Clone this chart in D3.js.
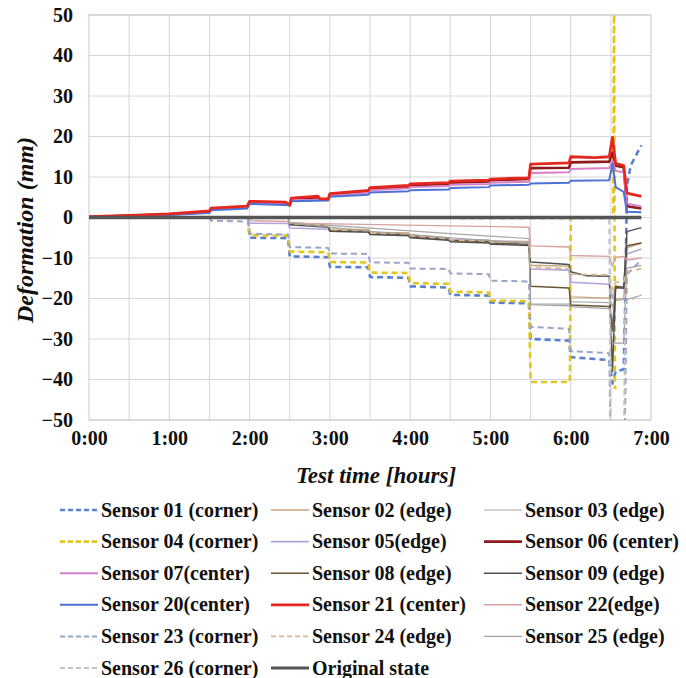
<!DOCTYPE html>
<html>
<head>
<meta charset="utf-8">
<script src="https://cdn.jsdelivr.net/npm/d3@7"></script>
<style>
  body { margin: 0; background: #ffffff; }
  svg { display: block; }
  svg text { font-family: "Liberation Serif", "Times New Roman", Tinos, Times, "DejaVu Serif", serif; }
</style>
</head>
<body>
<div id="chart"></div>
<script>
// tick values / labels
const yTicks = [50, 40, 30, 20, 10, 0, -10, -20, -30, -40, -50];
const xTicks = [0, 1, 2, 3, 4, 5, 6, 7];
const xTickLabels = ["0:00", "1:00", "2:00", "3:00", "4:00", "5:00", "6:00", "7:00"];
const xGridHours = [0.5, 1, 1.5, 2, 2.5, 3, 3.5, 4, 4.5, 5, 5.5, 6, 6.5];

// series: [time in hours, deformation in mm]
const sensor01 = [[0,0],[1.98,0],[2.0,-5.0],[2.48,-5.1],[2.5,-9.6],[2.98,-9.8],[3.0,-12.2],[3.48,-12.3],[3.5,-14.7],[3.98,-14.9],[4.0,-17.0],[4.48,-17.3],[4.5,-19.1],[4.98,-19.3],[5.0,-21.0],[5.48,-21.2],[5.5,-30.0],[5.98,-30.4],[6.0,-34.5],[6.48,-35.2],[6.52,-41],[6.56,-38],[6.66,-37.5],[6.68,-20],[6.7,8],[6.75,13],[6.88,17.8]];
const sensor02 = [[0,0],[2.48,0],[2.5,-1.3],[2.98,-1.9],[3.0,-2.8],[3.48,-3.0],[3.5,-3.6],[3.98,-3.8],[4.0,-4.3],[4.48,-5.0],[4.5,-5.4],[4.98,-5.6],[5.0,-5.8],[5.48,-5.9],[5.5,-11.8],[5.98,-12.0],[6.0,-19.6],[6.48,-19.9],[6.52,-22],[6.56,-20.2],[6.66,-20.0],[6.7,-7.5],[6.88,-6.3]];
const sensor03 = [[0,0],[2.48,0],[2.5,-1.2],[3.5,-2.6],[4.5,-4.0],[5.48,-5.2],[5.5,-21.3],[5.98,-21.4],[6.0,-20.8],[6.48,-21.0],[6.52,-26],[6.56,-20.5],[6.66,-20.3],[6.7,-20.2],[6.88,-19.2]];
const sensor04 = [[0,0],[1.98,0],[2.0,-4.4],[2.48,-4.5],[2.5,-8.4],[2.98,-8.6],[3.0,-11.0],[3.48,-11.1],[3.5,-13.6],[3.98,-13.7],[4.0,-16.2],[4.48,-16.4],[4.5,-18.3],[4.98,-18.5],[5.0,-20.5],[5.48,-20.7],[5.5,-40.6],[5.99,-40.6],[6.0,0],[6.53,0],[6.54,60],[6.55,-42],[6.57,-42]];
const sensor05 = [[0,0],[1.98,0],[2.0,-1.4],[2.48,-1.5],[2.5,-2.6],[2.98,-2.9],[3.0,-3.4],[3.48,-3.6],[3.5,-4.1],[3.98,-4.3],[4.0,-4.7],[4.48,-5.1],[4.5,-5.4],[4.98,-5.6],[5.0,-5.9],[5.48,-6.1],[5.5,-12.7],[5.98,-13.0],[6.0,-16.0],[6.48,-16.5],[6.52,-20],[6.56,-17.5],[6.66,-17.2],[6.7,-9],[6.88,-7.8]];
const sensor06 = [[0,0.1],[0.5,0.4],[1,0.8],[1.5,1.4],[1.52,2.1],[1.97,2.6],[2.0,3.8],[2.45,3.6],[2.5,3.0],[2.52,4.5],[2.85,5.0],[2.88,4.4],[2.98,4.4],[3.0,5.6],[3.48,6.4],[3.5,7.1],[3.98,7.6],[4.0,8.0],[4.48,8.3],[4.5,8.6],[4.98,8.9],[5.0,9.2],[5.48,9.5],[5.5,12.2],[5.98,12.3],[6.0,13.6],[6.48,13.8],[6.52,16],[6.56,12.8],[6.66,12.4],[6.7,2.8],[6.88,2.2]];
const sensor07 = [[0,0.1],[1,0.7],[1.5,1.3],[1.52,2.0],[1.97,2.4],[2.0,3.6],[2.5,3.2],[2.52,4.3],[2.98,4.4],[3.0,5.4],[3.48,6.1],[3.5,6.7],[3.98,7.2],[4.0,7.5],[4.48,7.8],[4.5,8.1],[4.98,8.3],[5.0,8.6],[5.48,8.8],[5.5,11.0],[5.98,11.2],[6.0,12.0],[6.48,12.2],[6.52,14],[6.56,11.5],[6.66,11.2],[6.7,3.4],[6.88,2.7]];
const sensor08 = [[0,0],[2.48,0],[2.5,-1.6],[2.98,-2.2],[3.0,-3.2],[3.48,-3.4],[3.5,-4.0],[3.98,-4.2],[4.0,-4.7],[4.48,-5.4],[4.5,-5.7],[4.98,-6.0],[5.0,-6.3],[5.48,-6.6],[5.5,-17.0],[5.98,-17.4],[6.0,-21.6],[6.48,-22.0],[6.52,-28],[6.56,-17],[6.66,-17.2],[6.7,-7],[6.88,-6.3]];
const sensor09 = [[0,0],[2.48,0],[2.5,-1.8],[2.98,-2.4],[3.0,-3.4],[3.48,-3.6],[3.5,-4.2],[3.98,-4.5],[4.0,-5.0],[4.48,-5.6],[4.5,-6.0],[4.98,-6.3],[5.0,-6.6],[5.48,-6.9],[5.5,-11.0],[5.98,-11.6],[6.0,-13.4],[6.2,-14.4],[6.48,-14.5],[6.52,-38],[6.56,-17.3],[6.66,-17.5],[6.7,-3.5],[6.88,-2.5]];
const sensor20 = [[0,0],[1,0.6],[1.5,1.1],[1.52,1.8],[1.97,2.2],[2.0,3.4],[2.5,3.0],[2.52,4.0],[2.98,4.2],[3.0,5.1],[3.48,5.6],[3.5,6.2],[3.98,6.5],[4.0,6.7],[4.48,6.9],[4.5,7.3],[4.98,7.5],[5.0,7.9],[5.48,8.1],[5.5,8.4],[5.98,8.6],[6.0,9.1],[6.48,9.2],[6.52,13.3],[6.56,7.5],[6.66,6.3],[6.7,1.4],[6.88,1.3]];
const sensor21 = [[0,0.2],[0.5,0.5],[1,0.9],[1.5,1.6],[1.52,2.3],[1.97,2.8],[2.0,4.0],[2.45,3.8],[2.5,3.1],[2.52,4.8],[2.85,5.3],[2.88,4.6],[2.98,4.6],[3.0,5.9],[3.48,6.7],[3.5,7.4],[3.98,7.9],[4.0,8.3],[4.48,8.6],[4.5,9.0],[4.98,9.2],[5.0,9.5],[5.48,9.8],[5.5,13.2],[5.98,13.5],[6.0,15.0],[6.3,14.8],[6.48,15.0],[6.52,19.8],[6.56,13.3],[6.66,12.8],[6.7,6.0],[6.88,5.2]];
const sensor22 = [[0,0],[2.0,0],[2.02,-0.8],[2.48,-1.0],[2.5,-1.4],[5.48,-2.4],[5.5,-7.0],[5.98,-7.3],[6.0,-9.4],[6.48,-9.6],[6.52,-12],[6.56,-9.8],[6.66,-9.6],[6.7,-10.5],[6.88,-10]];
const sensor23 = [[0,0],[1.5,0],[1.52,-0.8],[1.98,-1.0],[2.0,-4.0],[2.48,-4.2],[2.5,-7.3],[2.98,-7.5],[3.0,-8.9],[3.48,-9.0],[3.5,-11.1],[3.98,-11.2],[4.0,-12.6],[4.48,-12.7],[4.5,-13.8],[4.98,-14.0],[5.0,-15.6],[5.48,-15.8],[5.5,-27.0],[5.98,-27.5],[6.0,-33.0],[6.48,-33.5],[6.5,-60],[6.67,-60],[6.7,-14],[6.88,-10.5]];
const sensor24 = [[0,0],[2.48,0],[2.5,-1.5],[2.98,-2.0],[3.0,-3.0],[3.48,-3.2],[3.5,-3.8],[3.98,-4.0],[4.0,-4.5],[4.48,-5.2],[4.5,-5.5],[4.98,-5.8],[5.0,-6.0],[5.48,-6.2],[5.5,-12.3],[5.98,-12.6],[6.0,-14.0],[6.48,-14.2],[6.52,-18],[6.56,-16],[6.66,-15.8],[6.7,-13.5],[6.88,-12.6]];
const sensor25 = [[0,0],[2.48,0],[2.5,-1.4],[3.5,-3.4],[4.5,-5.0],[5.48,-6.4],[5.5,-21.5],[5.98,-21.8],[6.0,-22.0],[6.48,-22.5],[6.52,-31],[6.66,-31],[6.7,-12.5],[6.88,-11.8]];
const sensor26 = [[0,0],[6.48,-0.3],[6.5,-60],[6.66,-60],[6.68,-21],[6.88,-19]];
const originalState = [[0,0],[6.88,0]];

const seriesNames = ["Sensor 01 (corner)", "Sensor 02 (edge)", "Sensor 03 (edge)",
  "Sensor 04 (corner)", "Sensor 05(edge)", "Sensor 06 (center)",
  "Sensor 07(center)", "Sensor 08 (edge)", "Sensor 09 (edge)",
  "Sensor 20(center)", "Sensor 21 (center)", "Sensor 22(edge)",
  "Sensor 23 (corner)", "Sensor 24 (edge)", "Sensor 25 (edge)",
  "Sensor 26 (corner)", "Original state"];
const seriesData = [sensor01, sensor02, sensor03, sensor04, sensor05, sensor06,
  sensor07, sensor08, sensor09, sensor20, sensor21, sensor22,
  sensor23, sensor24, sensor25, sensor26, originalState];

// styles per series: colour, width, dashed
const styles = [
  { color: "#5b7fcf", width: 2.6, dash: "6,4" },
  { color: "#c4a27c", width: 1.4 },
  { color: "#a6a6a6", width: 1.2 },
  { color: "#e3c51c", width: 2.6, dash: "6,4" },
  { color: "#b3a3da", width: 1.6 },
  { color: "#8e1b1b", width: 2.6 },
  { color: "#d97fc9", width: 2 },
  { color: "#6a5637", width: 1.5 },
  { color: "#4f4f4f", width: 1.4 },
  { color: "#4d72d6", width: 2 },
  { color: "#e4281d", width: 2.8 },
  { color: "#d9a0a0", width: 1.4 },
  { color: "#9aa3c8", width: 2, dash: "6,4" },
  { color: "#d6b88e", width: 1.8, dash: "6,4" },
  { color: "#a0a0a0", width: 1.2 },
  { color: "#c2c2c2", width: 2, dash: "6,4" },
  { color: "#555555", width: 3.6 }
];

const width = 686, height = 678;
const margin = { top: 15, right: 35, bottom: 258, left: 89 };
const plotW = width - margin.left - margin.right;
const plotH = height - margin.top - margin.bottom;

const svg = d3.select("#chart").append("svg")
  .attr("width", width)
  .attr("height", height);

const x = d3.scaleLinear().domain([0, 7]).range([0, plotW]);
const y = d3.scaleLinear().domain([-50, 50]).range([plotH, 0]);

const g = svg.append("g").attr("transform", `translate(${margin.left},${margin.top})`);

// grid
g.append("g")
  .selectAll("line.hgrid")
  .data(yTicks)
  .join("line")
  .attr("x1", 0).attr("x2", plotW)
  .attr("y1", d => y(d)).attr("y2", d => y(d))
  .attr("stroke", "#d6d6d6").attr("stroke-width", 1);

g.append("g")
  .selectAll("line.vgrid")
  .data(xGridHours)
  .join("line")
  .attr("y1", 0).attr("y2", plotH)
  .attr("x1", d => x(d)).attr("x2", d => x(d))
  .attr("stroke", "#d6d6d6").attr("stroke-width", 1);

g.append("rect")
  .attr("width", plotW).attr("height", plotH)
  .attr("fill", "none").attr("stroke", "#c8c8c8");

// axes
const yAxis = g.append("g")
  .call(d3.axisLeft(y).tickValues(yTicks).tickSize(0).tickPadding(16));
yAxis.select(".domain").remove();
yAxis.attr("font-family", null);
yAxis.selectAll("text")
  .attr("font-size", 20).attr("font-weight", "bold").attr("fill", "#111");

const xAxis = g.append("g")
  .attr("transform", `translate(0,${plotH})`)
  .call(d3.axisBottom(x).tickValues(xTicks).tickSize(0).tickPadding(11)
    .tickFormat((d, i) => xTickLabels[i]));
xAxis.select(".domain").remove();
xAxis.attr("font-family", null);
xAxis.selectAll("text")
  .attr("font-size", 20).attr("font-weight", "bold").attr("fill", "#111");

// axis titles
svg.append("text")
  .attr("transform", "translate(33,230) rotate(-90)")
  .attr("text-anchor", "middle")
  .attr("font-size", 24).attr("font-weight", "bold").attr("font-style", "italic")
  .attr("fill", "#111")
  .text("Deformation (mm)");

svg.append("text")
  .attr("x", 376)
  .attr("y", 483)
  .attr("text-anchor", "middle")
  .attr("font-size", 23).attr("font-weight", "bold").attr("font-style", "italic")
  .attr("fill", "#111")
  .text("Test time [hours]");

// lines, clipped to the plot
svg.append("clipPath").attr("id", "plotclip")
  .append("rect").attr("width", plotW).attr("height", plotH);

const line = d3.line().x(d => x(d[0])).y(d => y(d[1]));

g.append("g").attr("clip-path", "url(#plotclip)")
  .selectAll("path.series")
  .data(seriesData)
  .join("path")
  .attr("class", "series")
  .attr("fill", "none")
  .attr("stroke", (d, i) => styles[i].color)
  .attr("stroke-width", (d, i) => styles[i].width)
  .attr("stroke-dasharray", (d, i) => styles[i].dash || null)
  .attr("stroke-linejoin", "round")
  .attr("d", line);

// legend, 3 columns
const colX = [60, 271, 484];
const rowY0 = 510, rowStep = 31.6;
const legend = svg.append("g");
const items = legend.selectAll("g.item")
  .data(seriesNames)
  .join("g")
  .attr("class", "item")
  .attr("transform", (d, i) => `translate(${colX[i % 3]},${rowY0 + Math.floor(i / 3) * rowStep})`);

items.append("line")
  .attr("x1", 0).attr("x2", 38)
  .attr("stroke", (d, i) => styles[i].color)
  .attr("stroke-width", (d, i) => Math.min(styles[i].width, 3))
  .attr("stroke-dasharray", (d, i) => styles[i].dash ? "5,3" : null);

items.append("text")
  .attr("x", 41).attr("dy", "0.33em")
  .attr("font-size", 20).attr("font-weight", "bold")
  .attr("fill", "#111")
  .text(d => d);
</script>
</body>
</html>
